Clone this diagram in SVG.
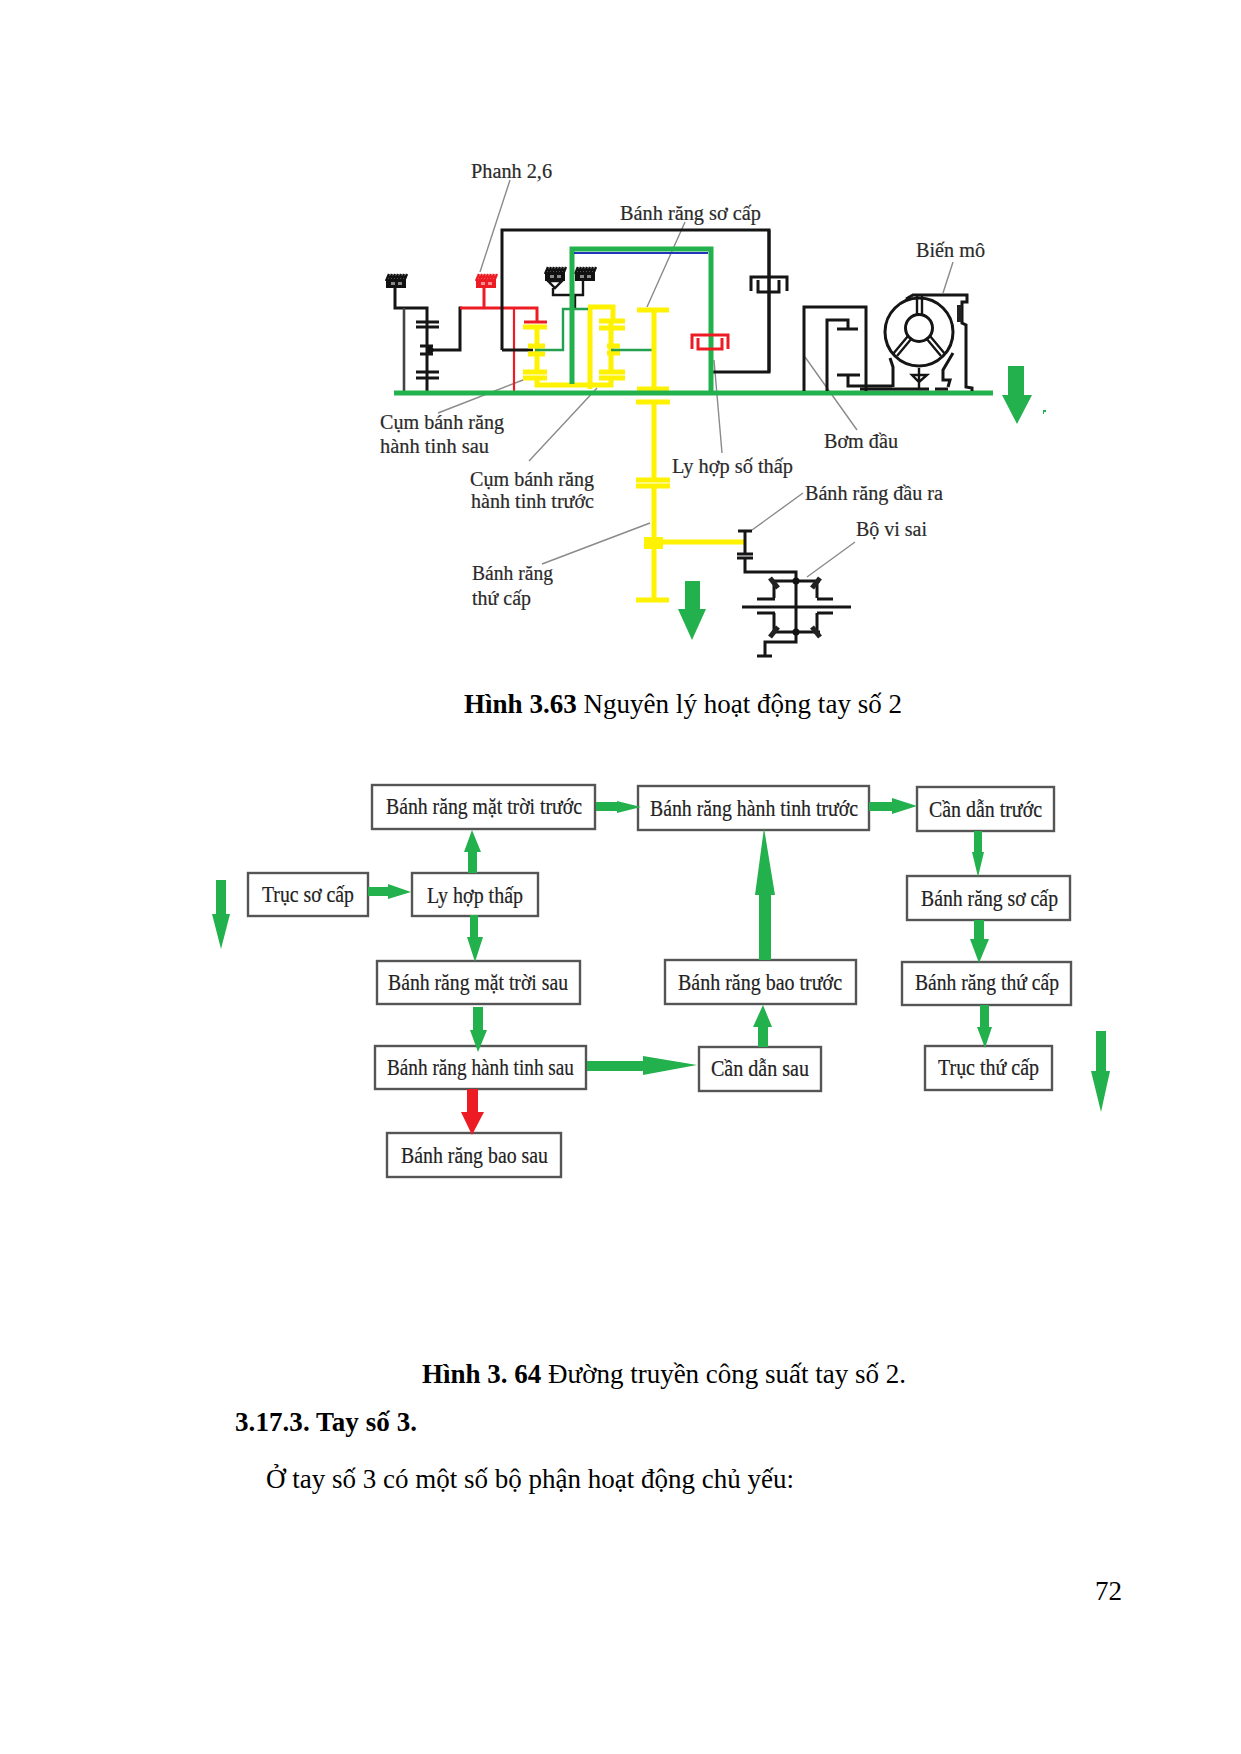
<svg xmlns="http://www.w3.org/2000/svg" xmlns:xlink="http://www.w3.org/1999/xlink" width="1241" height="1754" viewBox="0 0 1241 1754">
<style>
text{font-family:"Liberation Serif","Times New Roman",serif;fill:#000}
.lb{font-size:20px;fill:#2a2a2a;stroke:#2a2a2a;stroke-width:.2}
.bx{font-size:23px;fill:#222;stroke:#222;stroke-width:.2}
.cap{font-size:27px}
.b{font-weight:bold}
rect.n{fill:#fff;stroke:#555;stroke-width:2.4}
.ld{stroke:#8a8a8a;stroke-width:1.4;fill:none}
.k{stroke:#151515;stroke-width:3;fill:none}
.k2{stroke:#151515;stroke-width:2.4;fill:none}
.y{stroke:#fff200;stroke-width:5;fill:none}
.g{stroke:#22b14c;stroke-width:5;fill:none}
.gt{stroke:#22a050;stroke-width:2.4;fill:none}
.r{stroke:#ed1c24;stroke-width:3;fill:none}
.ag{fill:#22b14c}
.ar{fill:#ed1c24}
</style>
<defs>
<g id="hatch"><path d="M-9 0H11M-10 4L-7 -3M-7 4L-4 -3M-4 4L-1 -3M-1 4L2 -3M2 4L5 -3M5 4L8 -3M8 4L11 -3" stroke="currentColor" stroke-width="2.4" fill="none"/><path d="M-9 3H9V10H-9Z" stroke="currentColor" stroke-width="2" fill="currentColor"/><path d="M-5 5H-1V8H-5ZM2 5H6V8H2Z" fill="#fff" opacity=".5"/></g>
</defs>
<rect width="1241" height="1754" fill="#fff"/>

<g id="mechanism">
<path class="ld" d="M510 180L480 272M685 222L647 307M438 413L523 380M597 388L529 461M714 360L722 453M805 357L857 430M953 262L943 293M752 530L803 493M807 577L855 542M650 523L542 564"/>
<use xlink:href="#hatch" x="396" y="277" color="#111"/>
<path class="k" d="M395 287V308H427V393"/>
<path d="M404 308V393" stroke="#444" stroke-width="2.6" fill="none"/>
<path class="k" d="M416 322H439M416 327H439M420 346H433M420 354H433M416 372H439M416 378H439M430 350H460V308H462"/>
<circle cx="430" cy="350" r="3.5" fill="#111"/>
<use xlink:href="#hatch" x="486" y="277" color="#ed1c24"/>
<path class="r" d="M460 308H537V322M484 287V308M524 322H547"/>
<path d="M514 308V393" stroke="#ed1c24" stroke-width="2.2" fill="none"/>
<path class="k" d="M502 350V230H769V372H713M502 350H533"/>
<use xlink:href="#hatch" x="555" y="270" color="#111"/>
<use xlink:href="#hatch" x="585" y="270" color="#111"/>
<path class="k2" d="M548 281H562L555 288ZM553 288V295H583V281M575 295V308"/>
<path class="y" d="M523 327H547M528 346H545M528 354H545M523 372H547M523 378H547M537 327V372M537 378V385H611V378M590 389V307M588 307H613V321M599 321H625M599 328H625M611 321V372M607 346H620M607 353H620M599 372H625M599 378H625"/>
<path class="gt" d="M535 350H563V309H588M611 350H652"/>
<path class="g" d="M572 384V249H711V393"/>
<path d="M574 253H708" stroke="#2233bb" stroke-width="2.2" fill="none"/>
<path class="y" d="M637 310H669M654 310V389M637 389H669M636 402H670M654 402V480M636 480H670M636 486H670M654 486V600M636 600H669"/>
<path d="M644 537H663V549H644Z" fill="#fff200"/>
<path d="M663 542H746" class="y"/>
<path class="k" d="M769 230V372M751 291V277H787V291M758 280V292H779V280"/>
<path class="r" d="M692 349V335H728V349M698 338V349H722V338"/>
<path class="g" d="M394 393H993"/>
<path class="k" d="M804 391V307H866V391M827 391V320H848V329M837 329H858M837 375H860M848 375V386H892"/>
<g class="k">
<circle cx="919" cy="332" r="34"/>
<circle cx="919" cy="328" r="13.5"/>
<path d="M906 299L913 295H967V302H962V323L966 325V387L972 388V391M890 358L893 367V387M860 389H929M935 389H948M953 353L943 370V380H950L948 387"/>
</g>
<path class="k2" d="M917 295V315M922 295V315M912 338L897 356M908 336L893 354M926 338L941 356M930 336L945 354M912 375H927L919 382ZM919 368V388"/>
<path d="M957 305H962V322H957Z" fill="#222"/>
<path class="k" d="M738 531H752M745 531V554M737 554H753M737 558H753M745 558V572H796V642H765V655M757 656H772M772 581H820M772 632H820M742 607H851M774 581V598M757 599H775M817 581V598M817 599H833M757 613H775M774 613V632M817 613V632M817 613H833"/>
<circle cx="796" cy="581" r="3.5" fill="#111"/><circle cx="796" cy="632" r="3.5" fill="#111"/>
<path d="M770 578L778 588M820 578L812 588M770 637L778 627M820 637L812 627" stroke="#222" stroke-width="5" fill="none"/>
<polygon class="ag" points="1008,366 1024,366 1024,395 1032,395 1017,424 1002,395 1008,395"/>
<polygon class="ag" points="685,581 700,581 700,609 706,609 692,640 678,609 685,609"/>
<path d="M1043 410H1046V412H1044V414H1043Z" fill="#22b14c"/>
<text class="lb" x="471" y="178" textLength="81" lengthAdjust="spacingAndGlyphs">Phanh 2,6</text>
<text class="lb" x="620" y="220" textLength="141" lengthAdjust="spacingAndGlyphs">Bánh răng sơ cấp</text>
<text class="lb" x="916" y="257" textLength="69" lengthAdjust="spacingAndGlyphs">Biến mô</text>
<text class="lb" x="824" y="448" textLength="74" lengthAdjust="spacingAndGlyphs">Bơm đầu</text>
<text class="lb" x="380" y="429" textLength="124" lengthAdjust="spacingAndGlyphs">Cụm bánh răng</text>
<text class="lb" x="380" y="453" textLength="109" lengthAdjust="spacingAndGlyphs">hành tinh sau</text>
<text class="lb" x="470" y="486" textLength="124" lengthAdjust="spacingAndGlyphs">Cụm bánh răng</text>
<text class="lb" x="471" y="508" textLength="123" lengthAdjust="spacingAndGlyphs">hành tinh trước</text>
<text class="lb" x="672" y="473" textLength="121" lengthAdjust="spacingAndGlyphs">Ly hợp số thấp</text>
<text class="lb" x="805" y="500" textLength="138" lengthAdjust="spacingAndGlyphs">Bánh răng đầu ra</text>
<text class="lb" x="856" y="536" textLength="71" lengthAdjust="spacingAndGlyphs">Bộ vi sai</text>
<text class="lb" x="472" y="580" textLength="81" lengthAdjust="spacingAndGlyphs">Bánh răng</text>
<text class="lb" x="472" y="605" textLength="59" lengthAdjust="spacingAndGlyphs">thứ cấp</text>
</g>

<g id="caption-63"><text class="cap" x="464" y="713" textLength="438"><tspan class="b">Hình 3.63</tspan> Nguyên lý hoạt động tay số 2</text></g>

<g id="n-mttruoc"><rect class="n" x="372" y="785" width="223" height="44"/><text class="bx" x="386" y="814" textLength="196" lengthAdjust="spacingAndGlyphs">Bánh răng mặt trời trước</text></g>
<g id="n-httruoc"><rect class="n" x="638" y="786" width="231" height="44"/><text class="bx" x="650" y="816" textLength="208" lengthAdjust="spacingAndGlyphs">Bánh răng hành tinh trước</text></g>
<g id="n-cantruoc"><rect class="n" x="917" y="787" width="137" height="44"/><text class="bx" x="929" y="817" textLength="113" lengthAdjust="spacingAndGlyphs">Cần dẫn trước</text></g>
<g id="n-truc1"><rect class="n" x="248" y="873" width="120" height="43"/><text class="bx" x="262" y="902" textLength="92" lengthAdjust="spacingAndGlyphs">Trục sơ cấp</text></g>
<g id="n-lyhop"><rect class="n" x="412" y="873" width="126" height="43"/><text class="bx" x="427" y="903" textLength="96" lengthAdjust="spacingAndGlyphs">Ly hợp thấp</text></g>
<g id="n-socap"><rect class="n" x="907" y="876" width="163" height="44"/><text class="bx" x="921" y="906" textLength="137" lengthAdjust="spacingAndGlyphs">Bánh răng sơ cấp</text></g>
<g id="n-mtsau"><rect class="n" x="377" y="961" width="203" height="43"/><text class="bx" x="388" y="990" textLength="180" lengthAdjust="spacingAndGlyphs">Bánh răng mặt trời sau</text></g>
<g id="n-baotruoc"><rect class="n" x="665" y="960" width="191" height="44"/><text class="bx" x="678" y="990" textLength="164" lengthAdjust="spacingAndGlyphs">Bánh răng bao trước</text></g>
<g id="n-thucap"><rect class="n" x="902" y="962" width="169" height="43"/><text class="bx" x="915" y="990" textLength="144" lengthAdjust="spacingAndGlyphs">Bánh răng thứ cấp</text></g>
<g id="n-htsau"><rect class="n" x="375" y="1046" width="211" height="43"/><text class="bx" x="387" y="1075" textLength="187" lengthAdjust="spacingAndGlyphs">Bánh răng hành tinh sau</text></g>
<g id="n-cansau"><rect class="n" x="699" y="1047" width="122" height="44"/><text class="bx" x="711" y="1076" textLength="98" lengthAdjust="spacingAndGlyphs">Cần dẫn sau</text></g>
<g id="n-truc2"><rect class="n" x="925" y="1046" width="127" height="44"/><text class="bx" x="938" y="1075" textLength="101" lengthAdjust="spacingAndGlyphs">Trục thứ cấp</text></g>
<g id="n-baosau"><rect class="n" x="387" y="1133" width="174" height="44"/><text class="bx" x="401" y="1163" textLength="147" lengthAdjust="spacingAndGlyphs">Bánh răng bao sau</text></g>

<g id="connectors">
<polygon class="ag" points="216,880 226,880 226,914 230,914 221,949 212,914 216,914"/>
<polygon class="ag" points="368,887 388,887 388,884 411,892 388,899 388,896 368,896"/>
<polygon class="ag" points="468,873 477,873 477,852 481,852 472,830 464,852 468,852"/>
<polygon class="ag" points="470,915 478,915 478,937 483,937 475,962 467,937 470,937"/>
<polygon class="ag" points="473,1007 483,1007 483,1030 487,1030 478,1052 470,1030 473,1030"/>
<polygon class="ag" points="587,1061 643,1061 643,1056 697,1065 643,1075 643,1071 587,1071"/>
<polygon class="ar" points="467,1089 478,1089 478,1112 484,1112 472,1135 461,1112 467,1112"/>
<polygon class="ag" points="596,802 617,802 617,801 641,807 617,813 617,811 596,811"/>
<polygon class="ag" points="869,802 892,802 892,798 917,806 892,814 892,811 869,811"/>
<polygon class="ag" points="974,831 982,831 982,852 984,852 978,877 972,852 974,852"/>
<polygon class="ag" points="974,920 984,920 984,939 989,939 979,963 970,939 974,939"/>
<polygon class="ag" points="980,1005 989,1005 989,1027 992,1027 985,1048 977,1027 980,1027"/>
<polygon class="ag" points="1096,1031 1106,1031 1106,1071 1110,1071 1101,1112 1091,1071 1096,1071"/>
<polygon class="ag" points="759,960 771,960 771,895 775,895 764,828 755,895 759,895"/>
<polygon class="ag" points="758,1047 768,1047 768,1027 772,1027 763,1005 753,1027 758,1027"/>
</g>

<g id="page-text">
<text class="cap" x="422" y="1383" textLength="484"><tspan class="b">Hình 3. 64</tspan> Đường truyền công suất tay số 2.</text>
<text class="cap b" x="235" y="1431" textLength="182">3.17.3. Tay số 3.</text>
<text class="cap" x="266" y="1488" textLength="528">Ở tay số 3 có một số bộ phận hoạt động chủ yếu:</text>
<text class="cap" x="1095" y="1600">72</text>
</g>
</svg>
